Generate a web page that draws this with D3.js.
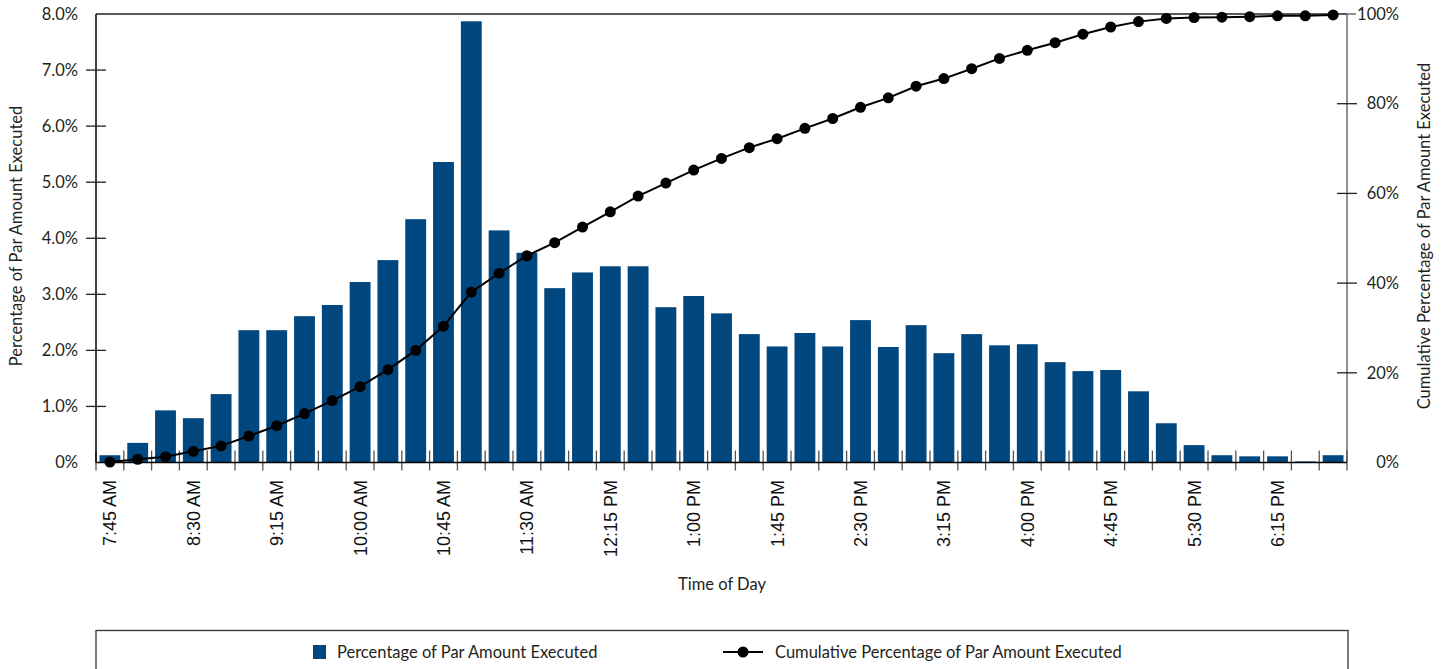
<!DOCTYPE html>
<html>
<head>
<meta charset="utf-8">
<script src="https://cdn.jsdelivr.net/npm/d3@7"></script>
<style>
  html, body { margin: 0; padding: 0; background: #fff; }
  text { font-family: Lato, "Open Sans", sans-serif; fill: #231f20; }
  text.xlab { font-family: "Liberation Sans", Arial, sans-serif; fill: #111; }
</style>
</head>
<body>
<svg id="chart" width="1450" height="669"></svg>
<script>
// ---- Data ----
const times = [
  "7:45 AM","8:00 AM","8:15 AM","8:30 AM","8:45 AM","9:00 AM","9:15 AM","9:30 AM","9:45 AM",
  "10:00 AM","10:15 AM","10:30 AM","10:45 AM","11:00 AM","11:15 AM","11:30 AM","11:45 AM",
  "12:00 PM","12:15 PM","12:30 PM","12:45 PM","1:00 PM","1:15 PM","1:30 PM","1:45 PM",
  "2:00 PM","2:15 PM","2:30 PM","2:45 PM","3:00 PM","3:15 PM","3:30 PM","3:45 PM",
  "4:00 PM","4:15 PM","4:30 PM","4:45 PM","5:00 PM","5:15 PM","5:30 PM","5:45 PM",
  "6:00 PM","6:15 PM","6:30 PM","6:45 PM"
];
const pctExecuted = [
  0.13,0.35,0.93,0.79,1.22,2.36,2.36,2.61,2.81,
  3.22,3.61,4.34,5.36,7.87,4.14,3.74,3.11,
  3.39,3.50,3.50,2.77,2.97,2.66,2.29,2.07,
  2.31,2.07,2.54,2.06,2.45,1.95,2.29,2.09,
  2.11,1.79,1.63,1.65,1.27,0.70,0.31,0.13,
  0.11,0.11,0.02,0.13
];
const cumPct = [
  0.1,0.7,1.3,2.5,3.7,5.9,8.2,10.9,13.8,
  16.9,20.7,25.0,30.4,38.0,42.2,46.1,49.0,
  52.5,55.9,59.4,62.3,65.2,67.8,70.2,72.2,
  74.5,76.7,79.2,81.3,83.9,85.6,87.8,90.1,
  91.9,93.6,95.5,97.1,98.3,99.0,99.2,99.3,
  99.4,99.6,99.6,99.8
];
const leftTicks = [0,1,2,3,4,5,6,7,8];
const rightTicks = [0,20,40,60,80,100];
const xLabelEvery = 3;
const seriesNames = ["Percentage of Par Amount Executed", "Cumulative Percentage of Par Amount Executed"];

// ---- Layout ----
const svg = d3.select("#chart");
const L = 96, R = 1347, T = 14, B = 462.5;
const barColor = "#00477f";
const titleSize = 16.5;

const x = d3.scaleBand().domain(times).range([L, R]).paddingInner(0.25).paddingOuter(0.125);
const yL = d3.scaleLinear().domain([0, 8]).range([B, T]);
const yR = d3.scaleLinear().domain([0, 100]).range([B, T]);
const step = x.step();
const slotStart = t => x(t) - step * 0.125;

// bars
svg.append("g").selectAll("rect").data(pctExecuted).join("rect")
  .attr("x", (d, i) => x(times[i]))
  .attr("y", d => yL(d))
  .attr("width", x.bandwidth())
  .attr("height", d => B - yL(d))
  .attr("fill", barColor);

// x ticks at slot boundaries
const bounds = times.map(t => slotStart(t)).concat([R]);
svg.append("g").selectAll("line").data(bounds).join("line")
  .attr("x1", d => d).attr("x2", d => d)
  .attr("y1", B - 12).attr("y2", B + 8)
  .attr("stroke", "#555").attr("stroke-width", 1.3);

// frame lines
svg.append("line").attr("x1", L).attr("x2", R).attr("y1", T).attr("y2", T).attr("stroke", "#222").attr("stroke-width", 1.5);
svg.append("line").attr("x1", L).attr("x2", R).attr("y1", B).attr("y2", B).attr("stroke", "#000").attr("stroke-width", 1.5);
svg.append("line").attr("x1", L).attr("x2", L).attr("y1", T).attr("y2", B).attr("stroke", "#000").attr("stroke-width", 1.5);
svg.append("line").attr("x1", R).attr("x2", R).attr("y1", T).attr("y2", B).attr("stroke", "#555").attr("stroke-width", 1.3);

// left axis
const gL = svg.append("g");
gL.selectAll("line").data(leftTicks.filter(d => d > 0 && d < 8)).join("line")
  .attr("x1", L - 10).attr("x2", L + 10)
  .attr("y1", d => yL(d)).attr("y2", d => yL(d))
  .attr("stroke", "#222").attr("stroke-width", 1.3);
gL.selectAll("text").data(leftTicks).join("text")
  .attr("x", 78).attr("y", d => yL(d)).attr("dy", "0.35em")
  .attr("text-anchor", "end").attr("font-size", 16.5)
  .text(d => d === 0 ? "0%" : d.toFixed(1) + "%");

// right axis
const gR = svg.append("g");
gR.selectAll("line").data(rightTicks.filter(d => d > 0 && d < 100)).join("line")
  .attr("x1", R - 10).attr("x2", R + 10)
  .attr("y1", d => yR(d)).attr("y2", d => yR(d))
  .attr("stroke", "#222").attr("stroke-width", 1.3);
gR.append("line").attr("x1", R).attr("x2", R + 9).attr("y1", T).attr("y2", T).attr("stroke", "#555").attr("stroke-width", 1.3);
gR.selectAll("text").data(rightTicks).join("text")
  .attr("x", 1399).attr("y", d => yR(d)).attr("dy", "0.35em")
  .attr("text-anchor", "end").attr("font-size", 16.5)
  .text(d => d + "%");

// x labels
svg.append("g").selectAll("text").data(times.filter((t, i) => i % xLabelEvery === 0)).join("text")
  .attr("class", "xlab")
  .attr("transform", t => `translate(${x(t) + x.bandwidth() / 2},480) rotate(-90)`)
  .attr("dy", "0.36em").attr("text-anchor", "end").attr("font-size", 18)
  .text(t => t);

// axis titles
svg.append("text").attr("transform", "translate(16,236) rotate(-90)")
  .attr("dy", "0.35em").attr("text-anchor", "middle").attr("font-size", titleSize).text(seriesNames[0]);
svg.append("text").attr("transform", "translate(1424,236) rotate(-90)")
  .attr("dy", "0.35em").attr("text-anchor", "middle").attr("font-size", titleSize).text(seriesNames[1]);
svg.append("text").attr("x", 722).attr("y", 584).attr("dy", "0.35em")
  .attr("text-anchor", "middle").attr("font-size", titleSize).text("Time of Day");

// cumulative line
const cx = (d, i) => x(times[i]) + x.bandwidth() / 2;
svg.append("path").datum(cumPct)
  .attr("d", d3.line().x(cx).y(d => yR(d)))
  .attr("fill", "none").attr("stroke", "#000").attr("stroke-width", 2);
svg.append("g").selectAll("circle").data(cumPct).join("circle")
  .attr("cx", cx).attr("cy", d => yR(d)).attr("r", 5.5).attr("fill", "#000");

// legend
svg.append("rect").attr("x", L).attr("y", 630.5).attr("width", R - L + 1).attr("height", 60)
  .attr("fill", "none").attr("stroke", "#333").attr("stroke-width", 1.3);
svg.append("rect").attr("x", 313).attr("y", 645).attr("width", 13).attr("height", 14).attr("fill", barColor);
svg.append("text").attr("x", 337).attr("y", 652).attr("dy", "0.35em").attr("font-size", titleSize).text(seriesNames[0]);
svg.append("line").attr("x1", 723).attr("x2", 763).attr("y1", 652).attr("y2", 652).attr("stroke", "#000").attr("stroke-width", 2);
svg.append("circle").attr("cx", 743).attr("cy", 652).attr("r", 5.5).attr("fill", "#000");
svg.append("text").attr("x", 775).attr("y", 652).attr("dy", "0.35em").attr("font-size", titleSize).text(seriesNames[1]);
</script>
</body>
</html>
